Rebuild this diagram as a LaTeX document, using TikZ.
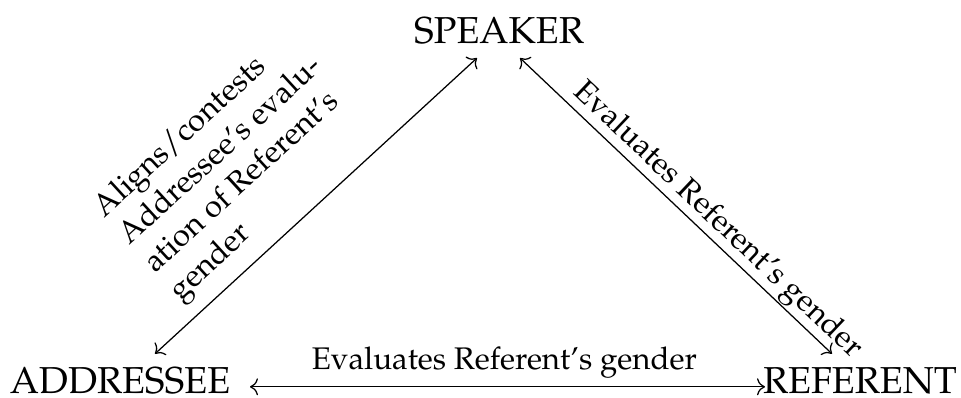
\documentclass[tikz,border=0pt]{standalone}
\usepackage[T1]{fontenc}
\usepackage{mathpazo}
\usetikzlibrary{arrows.meta}

\begin{document}
\begin{tikzpicture}[x=1pt,y=1pt,
  role/.style={font=\fontsize{37.5}{45}\selectfont, inner sep=0pt, anchor=base},
  lbl/.style={font=\fontsize{31.25}{37.5}\selectfont},
  link/.style={line width=1.25pt, {To[length=8pt,width=17pt]}-{To[length=8pt,width=17pt]}}]
\useasboundingbox (0,0) rectangle (961,397);

% the three roles
\node[role] (S) at (499,353.7) {SPEAKER};
\node[role] (A) at (120,3.7) {ADDRESSEE};
\node[role] (R) at (860,3.7) {REFERENT};

% addressee -- speaker
\draw[link] ([shift={(35,13.3)}]A.north)
  -- node[lbl, sloped, pos=0.123, anchor=south west, inner xsep=0pt, inner ysep=12pt, align=left]
     {Aligns/contests\\Addressee's evalu-\\ation of Referent's\\gender}
  ([shift={(-22,-13.7)}]S.south);

% speaker -- referent
\draw[link] ([shift={(21,-13.7)}]S.south)
  -- node[lbl, sloped, pos=0.594, anchor=south, inner sep=1pt]
     {Evaluates Referent's gender}
  ([shift={(-28,13.3)}]R.north);

% addressee -- referent
\draw[link] ([shift={(130,6.5)}]A.base)
  -- node[lbl, pos=0.494, anchor=south, inner sep=8pt]
     {Evaluates Referent's gender}
  ([shift={(-95,6.5)}]R.base);
\end{tikzpicture}
\end{document}
